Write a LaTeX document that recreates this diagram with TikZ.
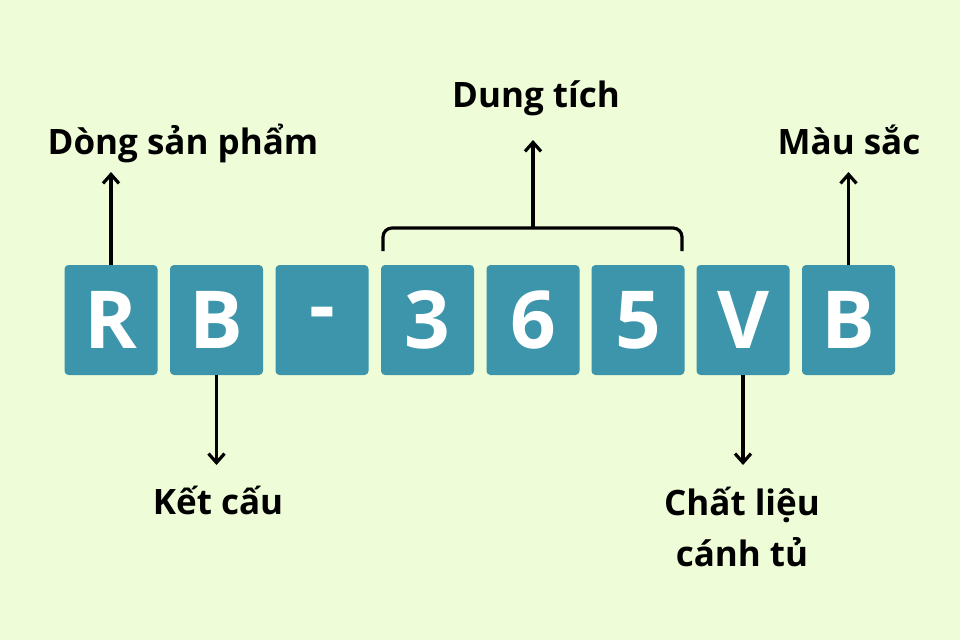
\documentclass[tikz,border=0pt]{standalone}
\usepackage{fontspec}
\setmainfont{Open Sans}
\usetikzlibrary{arrows.meta}
\definecolor{bg}{HTML}{EEFCD8}
\definecolor{tealbox}{HTML}{3D95AB}
\tikzset{
  cell/.style={fill=tealbox, rounded corners=4pt, minimum width=93pt, minimum height=110pt, inner sep=0pt, text=white, font=\fontsize{80}{80}\selectfont\bfseries},
  lbl/.style={font=\fontsize{35}{51}\selectfont\bfseries, text=black, align=center},
  arr/.style={line width=3.2pt, -{Straight Barb[length=9pt,width=16pt,line width=3.2pt]}}
}
\begin{document}
\begin{tikzpicture}[x=1pt,y=-1pt]
\useasboundingbox[fill=bg] (0,0) rectangle (960,640);
\foreach \t/\x [count=\i] in {R/111,B/216.5,-/322,3/427.5,6/533,5/638,V/743,B/848.5}
  \node[cell] (c\i) at (\x,320) {\t};
\node[lbl] (l1) at (183,143) {Dòng sản phẩm};
\node[lbl] (l2) at (218,500) {Kết cấu};
\node[lbl] (l3) at (536,98) {Dung tích};
\node[lbl] (l4) at (742,527) {Chất liệu\\cánh tủ};
\node[lbl] (l5) at (849,140) {Màu sắc};
\draw[arr] (c1.north) -- (111,172);
\draw[arr] (c2.south) -- (216.5,465);
\draw[arr] (c7.south) -- (743,465);
\draw[arr] (c8.north) -- (848.5,172);
\draw[line width=3.2pt, rounded corners=9pt] (383,251) -- (383,228) -- (682,228) -- (682,251);
\coordinate (bt) at (533,228);
\draw[arr] (bt) -- (533,140);
\end{tikzpicture}
\end{document}
